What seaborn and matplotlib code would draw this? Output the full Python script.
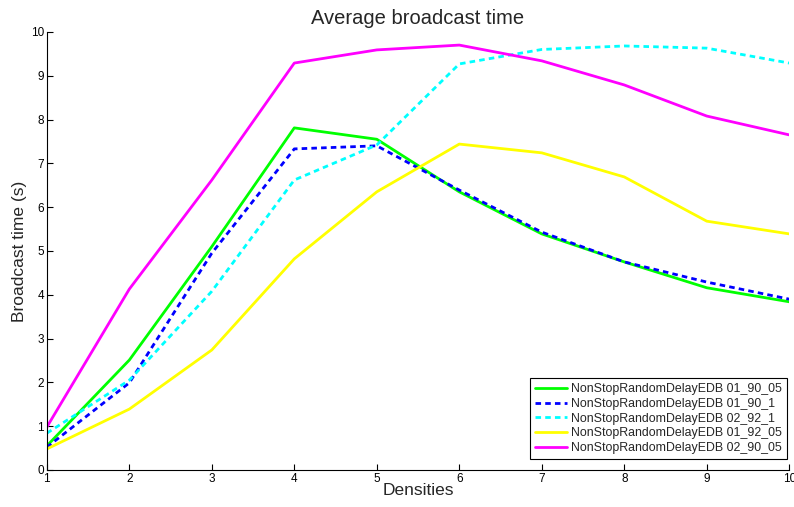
import pandas as pd
import seaborn as sns
import matplotlib.pyplot as plt

densities = [1, 2, 3, 4, 5, 6, 7, 8, 9, 10]

green_01_90_05 = [0.55, 2.51, 5.10, 7.81, 7.55, 6.35, 5.39, 4.75, 4.16, 3.84]
blue_01_90_1 = [0.52, 1.99, 4.95, 7.33, 7.40, 6.39, 5.43, 4.75, 4.29, 3.90]
cyan_02_92_1 = [0.84, 2.05, 4.08, 6.62, 7.42, 9.27, 9.60, 9.68, 9.63, 9.29]
yellow_01_92_05 = [0.48, 1.39, 2.74, 4.82, 6.35, 7.44, 7.24, 6.69, 5.68, 5.39]
magenta_02_90_05 = [0.98, 4.13, 6.62, 9.29, 9.59, 9.70, 9.34, 8.79, 8.08, 7.65]

labels = ['NonStopRandomDelayEDB 01_90_05', 'NonStopRandomDelayEDB 01_90_1',
          'NonStopRandomDelayEDB 02_92_1', 'NonStopRandomDelayEDB 01_92_05',
          'NonStopRandomDelayEDB 02_90_05']
series = [green_01_90_05, blue_01_90_1, cyan_02_92_1, yellow_01_92_05, magenta_02_90_05]
colors = ['#00ff00', '#0000ff', '#00ffff', '#ffff00', '#ff00ff']
styles = ['-', (0, (2, 1.5)), (0, (2, 1.5)), '-', '-']

sns.set_style('white')
plt.rcParams['font.family'] = ['Liberation Sans', 'DejaVu Sans']

fig = plt.figure(figsize=(7.94, 5.07), dpi=100)
ax = fig.add_axes([0.059, 0.073, 0.935, 0.864])

for vals, lab, col, ls in zip(series, labels, colors, styles):
    df = pd.DataFrame({'Densities': densities, 'time': vals})
    sns.lineplot(data=df, x='Densities', y='time', color=col, label=lab,
                 linewidth=2, ax=ax)
    ax.lines[-1].set_linestyle(ls)

ax.set_xlim(1, 10)
ax.set_ylim(0, 10)
ax.set_xticks(densities)
ax.set_yticks(range(0, 11))
ax.tick_params(direction='in', length=4, width=0.8, labelsize=8.5, colors='black',
               bottom=True, left=True, pad=2)
for s in ['top', 'right']:
    ax.spines[s].set_visible(False)
for s in ['left', 'bottom']:
    ax.spines[s].set_color('black')
    ax.spines[s].set_linewidth(0.8)

ax.set_title('Average broadcast time', fontsize=14.5, pad=6)
ax.set_xlabel('Densities', fontsize=12.5, labelpad=-1)
ax.set_ylabel('Broadcast time (s)', fontsize=12.5, labelpad=3)

leg = ax.legend(loc='lower right', bbox_to_anchor=(0.997, 0.025), borderaxespad=0,
                fontsize=8.9, frameon=True, fancybox=False,
                handlelength=2.6, handletextpad=0.3, labelspacing=0.22,
                borderpad=0.4)
leg.get_frame().set_edgecolor('black')
leg.get_frame().set_linewidth(0.8)
leg.get_frame().set_alpha(1)

plt.savefig('out.png', dpi=100)
plt.close()
